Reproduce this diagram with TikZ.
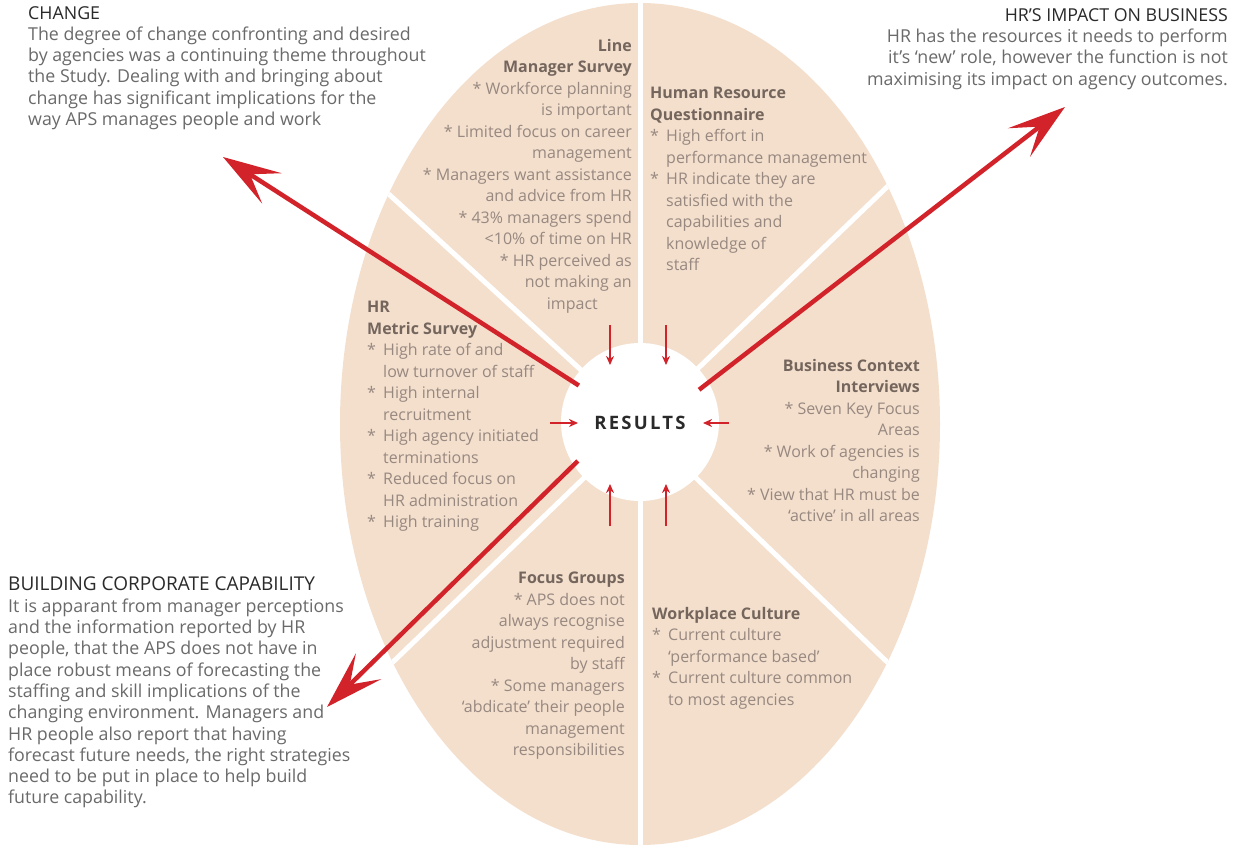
\documentclass[tikz,border=0pt]{standalone}
\usepackage{fontspec}
\setmainfont{Open Sans}
\usetikzlibrary{arrows.meta}
\definecolor{peach}{HTML}{F4DFCD}
\definecolor{arrowred}{HTML}{D2232A}
\definecolor{headtxt}{HTML}{2A2A2A}
\definecolor{bodytxt}{HTML}{6A6A6A}
\definecolor{segtxt}{HTML}{978880}
\definecolor{seghead}{HTML}{74665D}
\newcommand{\segbul}{\makebox[16pt][l]{*}}
\newcommand{\segind}{\hspace*{16pt}}
\tikzset{
  outtext/.style={inner sep=0pt, text=bodytxt, font=\fontsize{17.8}{21.3}\selectfont},
  segtext/.style={inner sep=0pt, text=segtxt, font=\fontsize{16}{21.5}\selectfont},
  divider/.style={white, line width=5pt},
  bigarrow/.style={arrowred, line width=4.5pt, -{Stealth[length=58pt,width=36pt,inset=26pt]}},
  smallarrow/.style={arrowred, line width=2.5pt, -{Stealth[length=9pt,width=8pt]}}
}
\begin{document}
\begin{tikzpicture}[x=1pt,y=-1pt]
\useasboundingbox (0,0) rectangle (1240,848);
\fill[white] (0,0) rectangle (1240,848);
\coordinate (O) at (640,424);
\fill[peach] (O) ellipse [x radius=300pt, y radius=421pt];
\begin{scope}
  \clip (O) ellipse [x radius=300pt, y radius=421pt];
  \draw[divider] (640,0) -- (640,848);
  \draw[divider] (O) -- ++(-494,-452);
  \draw[divider] (O) -- ++(494,-474);
  \draw[divider] (O) -- ++(490,472);
  \draw[divider] (O) -- ++(-490,472);
\end{scope}
\node[circle, fill=white, minimum size=158pt, inner sep=0pt] (res) at (640,422) {};
\node[inner sep=0pt, text=headtxt, font=\fontsize{18.5}{20}\selectfont\bfseries\addfontfeatures{LetterSpace=12}] (restxt) at (640,423) {RESULTS};

% segment texts
\node[segtext, anchor=north east, align=right] (lms) at (632,39) {%
{\color{seghead}\bfseries Line}\\
{\color{seghead}\bfseries Manager Survey}\\
* Workforce planning\\
is important\\
* Limited focus on career\\
management\\
* Managers want assistance\\
and advice from HR\\
* 43\% managers spend\\
<10\% of time on HR\\
* HR perceived as\\
not making an\\
impact\hspace*{34pt}};

\node[segtext, anchor=north west, align=left] (hrq) at (650,87) {%
{\color{seghead}\bfseries Human Resource}\\
{\color{seghead}\bfseries Questionnaire}\\
\segbul High effort in\\
\segind performance management\\
\segbul HR indicate they are\\
\segind satisfied with the\\
\segind capabilities and\\
\segind knowledge of\\
\segind staff};

\node[segtext, anchor=north west, align=left] (hrm) at (367,301) {%
{\color{seghead}\bfseries HR}\\
{\color{seghead}\bfseries Metric Survey}\\
\segbul High rate of and\\
\segind low turnover of staff\\
\segbul High internal\\
\segind recruitment\\
\segbul High agency initiated\\
\segind terminations\\
\segbul Reduced focus on\\
\segind HR administration\\
\segbul High training};

\node[segtext, anchor=north east, align=right] (bci) at (920,359) {%
{\color{seghead}\bfseries Business Context}\\
{\color{seghead}\bfseries Interviews}\\
* Seven Key Focus\\
Areas\\
* Work of agencies is\\
changing\\
* View that HR must be\\
`active' in all areas};

\node[segtext, anchor=north east, align=right] (fg) at (625,572) {%
{\color{seghead}\bfseries Focus Groups}\\
* APS does not\\
always recognise\\
adjustment required\\
by staff\\
* Some managers\\
`abdicate' their people\\
management\\
responsibilities};

\node[segtext, anchor=north west, align=left] (wc) at (652,607) {%
{\color{seghead}\bfseries Workplace Culture}\\
\segbul Current culture\\
\segind `performance based'\\
\segbul Current culture common\\
\segind to most agencies};

% outside texts
\node[outtext, anchor=north west, align=left] (chg) at (28,6) {%
{\color{headtxt}CHANGE}\\
The degree of change confronting and desired\\
by agencies was a continuing theme throughout\\
the Study. Dealing with and bringing about\\
change has significant implications for the\\
way APS manages people and work};

\node[outtext, anchor=north east, align=right] (imp) at (1228,8) {%
{\color{headtxt}HR'S IMPACT ON BUSINESS}\\
HR has the resources it needs to perform\\
it's `new' role, however the function is not\\
maximising its impact on agency outcomes.};

\node[outtext, anchor=north west, align=left] (bcc) at (8,577) {%
{\color{headtxt}\fontsize{19}{21.3}\selectfont BUILDING CORPORATE CAPABILITY}\\
It is apparant from manager perceptions\\
and the information reported by HR\\
people, that the APS does not have in\\
place robust means of forecasting the\\
staffing and skill implications of the\\
changing environment. Managers and\\
HR people also report that having\\
forecast future needs, the right strategies\\
need to be put in place to help build\\
future capability.};

% big arrows
\coordinate (tipchg) at (223,157);
\coordinate (tipimp) at (1065,107);
\coordinate (tipbcc) at (327,707);
\draw[bigarrow, shorten <=-8pt] (res.149) -- (tipchg);
\draw[bigarrow, shorten <=-12pt] (res.30) -- (tipimp);
\draw[bigarrow, shorten <=-6pt] (res.213) -- (tipbcc);

% small arrows
\coordinate (s1a) at (610,325); \coordinate (s1b) at (610,365);
\coordinate (s2a) at (666,325); \coordinate (s2b) at (666,365);
\coordinate (s3a) at (610,526); \coordinate (s3b) at (610,484);
\coordinate (s4a) at (666,526); \coordinate (s4b) at (666,484);
\coordinate (s5a) at (550,423); \coordinate (s5b) at (578,423);
\coordinate (s6a) at (729,423); \coordinate (s6b) at (703,423);
\draw[smallarrow] (s1a) -- (s1b);
\draw[smallarrow] (s2a) -- (s2b);
\draw[smallarrow] (s3a) -- (s3b);
\draw[smallarrow] (s4a) -- (s4b);
\draw[smallarrow] (s5a) -- (s5b);
\draw[smallarrow] (s6a) -- (s6b);
\end{tikzpicture}
\end{document}
